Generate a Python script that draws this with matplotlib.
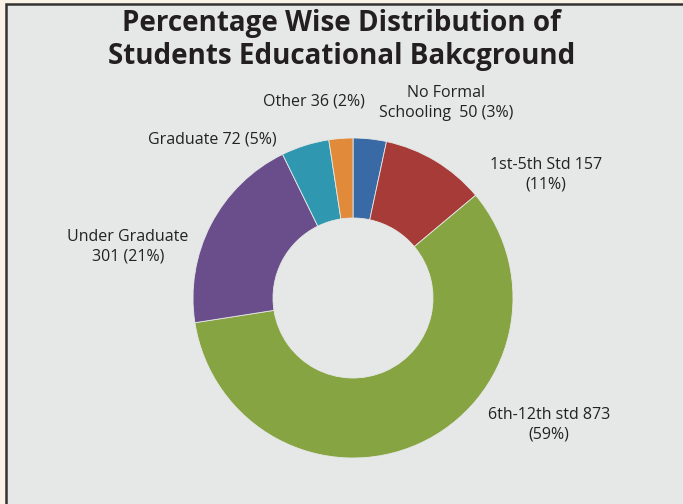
import matplotlib.pyplot as plt
from matplotlib.patches import Rectangle

# Data
categories = ["No Formal Schooling", "1st-5th Std", "6th-12th std",
              "Under Graduate", "Graduate", "Other"]
counts = [50, 157, 873, 301, 72, 36]
label_texts = ["No Formal\nSchooling  50 (3%)", "1st-5th Std 157\n(11%)",
               "6th-12th std 873\n(59%)", "Under Graduate\n301 (21%)",
               "Graduate 72 (5%)", "Other 36 (2%)"]
colors = ["#3a6aa6", "#a63b38", "#86a442", "#6a4e8b", "#2f98b0", "#e08a3a"]

# label centres in pixels (x from left, y from top)
label_pos = [(446, 103), (546, 175), (549, 425), (128, 247), (212, 139), (314, 102)]

W, H = 683, 504
bg = "#e6e8e7"

fig = plt.figure(figsize=(W / 100, H / 100), dpi=100)
fig.patch.set_facecolor("#fbf2e7")
ax = fig.add_axes([0, 0, 1, 1])

ax.add_patch(Rectangle((6, -10), 700, 510, facecolor=bg, edgecolor="#333333",
                       linewidth=1.8, zorder=0))

ax.pie(counts, colors=colors, startangle=90, counterclock=False,
       center=(353, H - 298), radius=160,
       wedgeprops=dict(width=80, edgecolor=bg, linewidth=0.6), frame=True)

for txt, (x, y) in zip(label_texts, label_pos):
    ax.text(x, H - y, txt, ha="center", va="center", fontsize=11.5,
            family="Open Sans", color="#222222", linespacing=1.3)

ax.text(W / 2, H - 40, "Percentage Wise Distribution of\nStudents Educational Bakcground",
        ha="center", va="center", fontsize=20, fontweight="bold",
        family="Open Sans", color="#231f20", linespacing=1.2)

ax.set_xlim(0, W)
ax.set_ylim(0, H)
ax.set_aspect("equal")
ax.axis("off")

fig.savefig("out.png", dpi=100, facecolor=fig.get_facecolor())
